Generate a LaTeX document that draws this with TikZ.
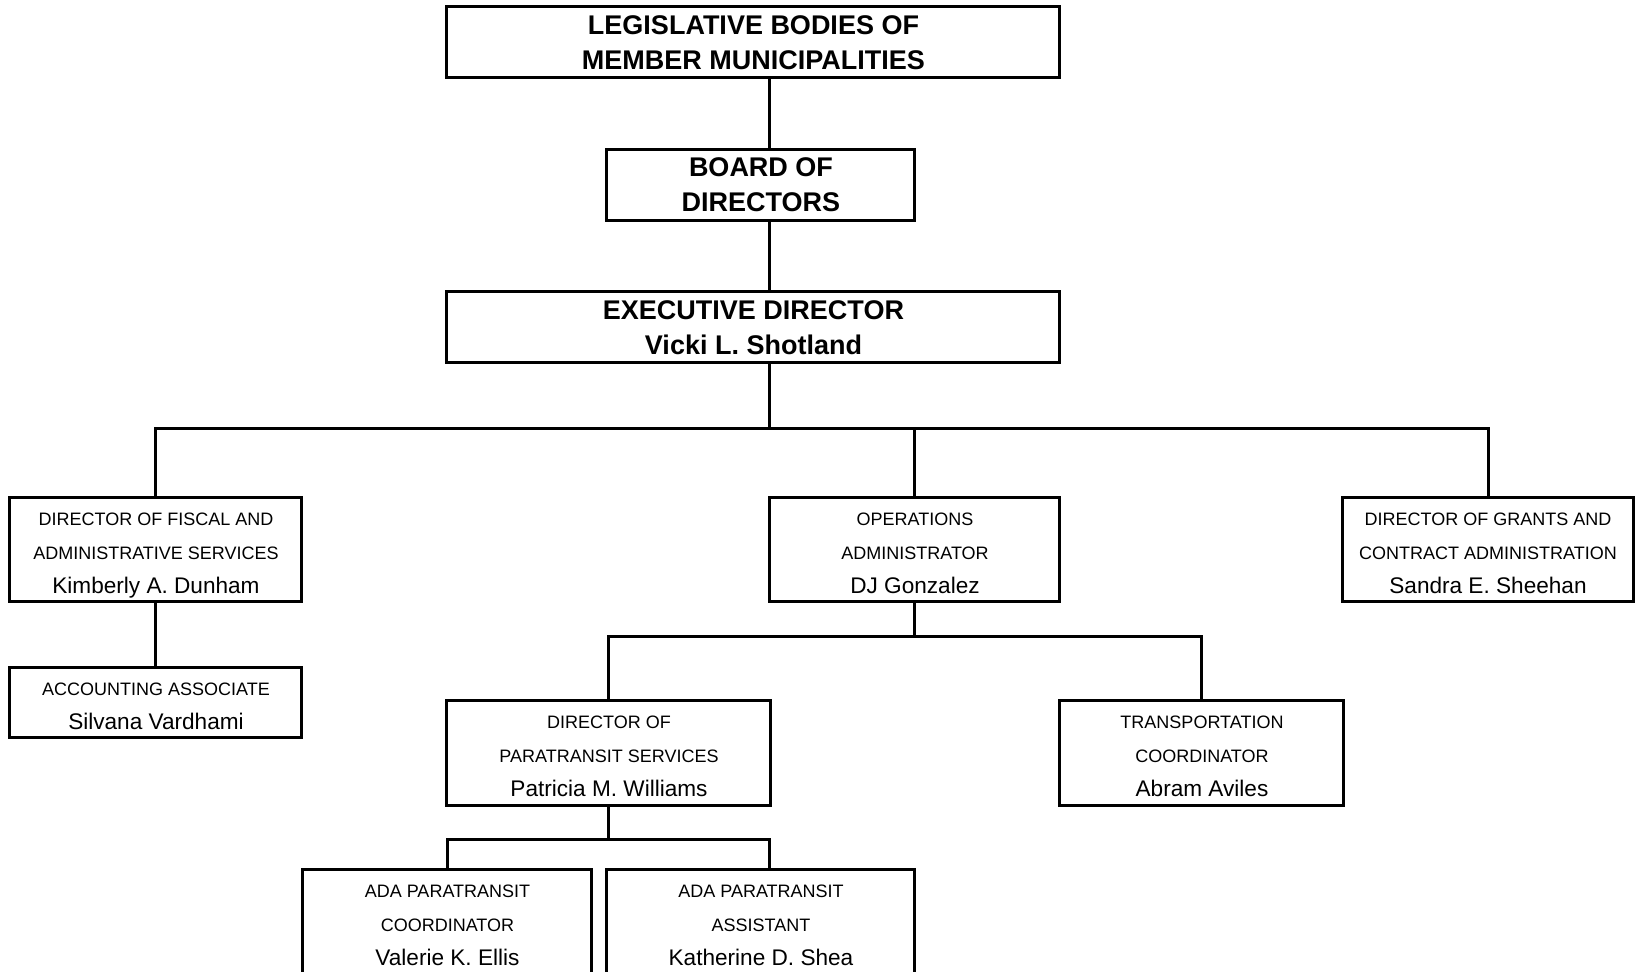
\documentclass[tikz,border=0pt]{standalone}
\usepackage{fontspec}
\setmainfont{Liberation Sans}
\newcommand{\headfont}{\bfseries\fontsize{13.5}{17.5}\selectfont}
\newcommand{\rolefont}{\fontsize{9}{17}\selectfont}
\newcommand{\namefont}{\fontsize{11.3}{17}\selectfont}

\begin{document}
\begin{tikzpicture}[node distance=71.25pt, line width=1.5pt,
  head/.style={rectangle, draw=black, font=\headfont, align=center, inner sep=2pt, minimum width=306.5pt, minimum height=35.5pt},
  role/.style={rectangle, draw=black, font=\rolefont, align=center, inner sep=2pt, minimum width=145pt, minimum height=51.5pt,
    text height=46pt, text depth=2.4pt}
]

\useasboundingbox (-376.75pt,21.25pt) rectangle (440.75pt,-464.75pt);

\node (leg) [head] {LEGISLATIVE BODIES OF\\MEMBER MUNICIPALITIES};
\node (board) [head, below of=leg, xshift=3.75pt, minimum width=154pt] {BOARD OF\\DIRECTORS};
\node (exec) [head, below of=board, xshift=-3.75pt] {EXECUTIVE DIRECTOR\\Vicki L. Shotland};
\node (ops) [role, below of=exec, xshift=80.75pt, yshift=-39.75pt] {OPERATIONS\\ADMINISTRATOR\\{\namefont DJ Gonzalez}};
\node (fiscal) [role, left of=ops, xshift=-308.25pt, minimum width=146pt] {DIRECTOR OF FISCAL AND\\ADMINISTRATIVE SERVICES\\{\namefont Kimberly A. Dunham}};
\node (grants) [role, right of=ops, xshift=215.25pt] {DIRECTOR OF GRANTS AND\\CONTRACT ADMINISTRATION\\{\namefont Sandra E. Sheehan}};
\node (acct) [role, below of=fiscal, yshift=-5.25pt, minimum width=146pt, minimum height=34.5pt, text height=29pt] {ACCOUNTING ASSOCIATE\\{\namefont Silvana Vardhami}};
\node (para) [role, below of=ops, xshift=-153pt, yshift=-30.5pt, minimum width=162pt] {DIRECTOR OF\\PARATRANSIT SERVICES\\{\namefont Patricia M. Williams}};
\node (trans) [role, right of=para, xshift=225.25pt, minimum width=142pt] {TRANSPORTATION\\COORDINATOR\\{\namefont Abram Aviles}};
\node (adac) [role, below of=para, xshift=-80.75pt, yshift=-13.25pt, minimum width=144.5pt] {ADA PARATRANSIT\\COORDINATOR\\{\namefont Valerie K. Ellis}};
\node (adaa) [role, right of=adac, xshift=85.5pt, minimum width=154pt] {ADA PARATRANSIT\\ASSISTANT\\{\namefont Katherine D. Shea}};

\coordinate (trunk) at (8.25pt,0);
\coordinate (bus) at ([yshift=33.5pt]ops.north);

\draw (leg.south -| trunk) -- (board.north -| trunk);
\draw (board.south -| trunk) -- (exec.north -| trunk);
\draw (exec.south -| trunk) -- (bus -| trunk);
\draw (fiscal.north) |- (bus) -| (grants.north);
\draw (ops.north) -- (bus);
\draw (fiscal) -- (acct);
\draw (ops.south) -- ++(0,-16.5pt) coordinate (opsbus);
\draw (para.north) |- (opsbus) -| (trans.north);
\draw (para.south) -- ++(0,-16.5pt) coordinate (parabus);
\draw (adac.north) |- (parabus) -| (adaa.north -| trunk);

\end{tikzpicture}
\end{document}
